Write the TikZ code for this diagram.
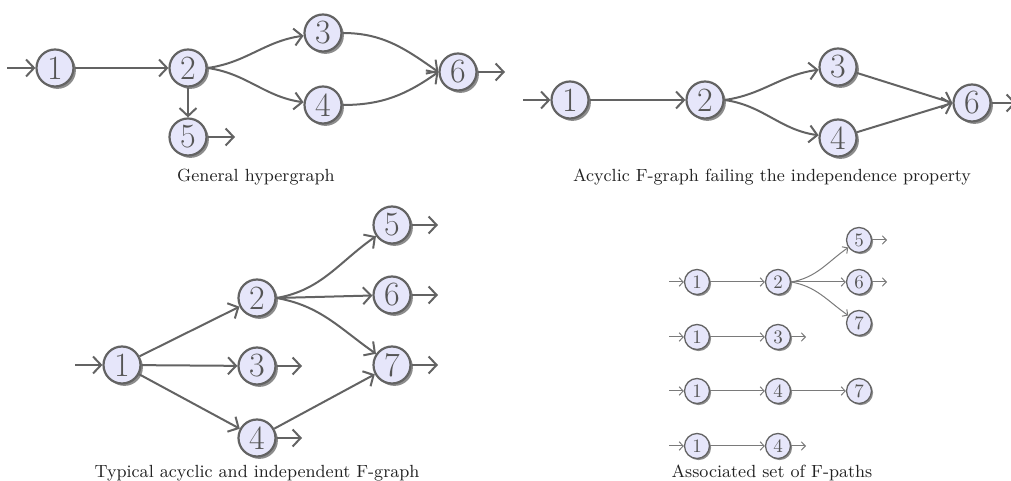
\documentclass[tikz,border=0pt]{standalone}
\usetikzlibrary{arrows.meta,shadows}
\definecolor{edgegray}{HTML}{636363}
\definecolor{lightedge}{HTML}{7A7A7A}
\definecolor{nodefill}{HTML}{E6E6FA}
\definecolor{digitgray}{HTML}{555555}
\definecolor{captioncol}{HTML}{222222}
\tikzset{
  bignode/.style={circle, draw=edgegray, line width=1.1pt, fill=nodefill,
    minimum size=18.5pt, inner sep=0pt, text=digitgray,
    font=\fontsize{17}{17}\selectfont,
    drop shadow={shadow xshift=1.2pt, shadow yshift=-1.2pt, fill=black!45, opacity=1}},
  smallnode/.style={circle, draw=edgegray, line width=0.65pt, fill=nodefill,
    minimum size=12.5pt, inner sep=0pt, text=digitgray,
    font=\fontsize{9.5}{9.5}\selectfont,
    drop shadow={shadow xshift=0.8pt, shadow yshift=-0.8pt, fill=black!45, opacity=1}},
  bigedge/.style={draw=edgegray, line width=1pt, -{Straight Barb[length=4pt,width=8.5pt]}},
  smalledge/.style={draw=lightedge, line width=0.5pt, -{Straight Barb[length=2pt,width=4.2pt]}},
  captext/.style={anchor=base, inner sep=0pt, text=captioncol, font=\fontsize{8.8}{10}\selectfont}
}
\begin{document}
\begin{tikzpicture}[x=0.5pt,y=0.5pt]
\useasboundingbox (0,0) rectangle (1011,481);

% ---------- Graph 1: General hypergraph
\coordinate (a0) at (7,413);
\node[bignode] (a1) at (55,413) {1};
\node[bignode] (a2) at (188,413) {2};
\node[bignode] (a3) at (323,448) {3};
\node[bignode] (a4) at (323,376) {4};
\node[bignode] (a5) at (188,344) {5};
\node[bignode] (a6) at (458,409) {6};
\coordinate (a6o) at (505,409);
\coordinate (a5o) at (235,344);
\draw[bigedge] (a0) -- (a1);
\draw[bigedge] (a1) -- (a2);
\draw[bigedge] (a2) -- (a5);
\draw[bigedge] (a2.east) to[out=8,in=188] (a3);
\draw[bigedge] (a2.east) to[out=-8,in=172] (a4);
\draw[bigedge] (a3.east) to[out=0,in=145] (a6.west);
\draw[bigedge] (a4.east) to[out=0,in=215] (a6.west);
\draw[bigedge] (a6) -- (a6o);
\draw[bigedge] (a5) -- (a5o);
\node[captext] (capa) at (256,299) {General hypergraph};

% ---------- Graph 2: Acyclic F-graph failing independence
\coordinate (b0) at (523,381);
\node[bignode] (b1) at (570,381) {1};
\node[bignode] (b2) at (705,381) {2};
\node[bignode] (b3) at (838,414) {3};
\node[bignode] (b4) at (838,343) {4};
\node[bignode] (b6) at (972,378) {6};
\coordinate (b6o) at (1016,378);
\draw[bigedge] (b0) -- (b1);
\draw[bigedge] (b1) -- (b2);
\draw[bigedge] (b2.east) to[out=8,in=188] (b3);
\draw[bigedge] (b2.east) to[out=-8,in=172] (b4);
\draw[bigedge] (b3) -- (b6.west);
\draw[bigedge] (b4) -- (b6.west);
\draw[bigedge] (b6) -- (b6o);
\node[captext] (capb) at (772,299) {Acyclic F-graph failing the independence property};

% ---------- Graph 3: Typical acyclic and independent F-graph
\coordinate (c0) at (75,116);
\node[bignode] (c1) at (122,116) {1};
\node[bignode] (c2) at (257,183) {2};
\node[bignode] (c3) at (257,115) {3};
\node[bignode] (c4) at (257,43) {4};
\node[bignode] (c5) at (392,256) {5};
\node[bignode] (c6) at (392,186) {6};
\node[bignode] (c7) at (392,116) {7};
\coordinate (c3o) at (302,115);
\coordinate (c4o) at (302,43);
\coordinate (c5o) at (438,256);
\coordinate (c6o) at (438,186);
\coordinate (c7o) at (438,116);
\draw[bigedge] (c0) -- (c1);
\draw[bigedge] (c1) -- (c2);
\draw[bigedge] (c1) -- (c3);
\draw[bigedge] (c1) -- (c4);
\draw[bigedge] (c2.east) to[out=10,in=215] (c5);
\draw[bigedge] (c2.east) -- (c6);
\draw[bigedge] (c2.east) to[out=-10,in=145] (c7);
\draw[bigedge] (c4) -- (c7);
\draw[bigedge] (c3) -- (c3o);
\draw[bigedge] (c4) -- (c4o);
\draw[bigedge] (c5) -- (c5o);
\draw[bigedge] (c6) -- (c6o);
\draw[bigedge] (c7) -- (c7o);
\node[captext] (capc) at (257,3) {Typical acyclic and independent F-graph};

% ---------- Graph 4: Associated set of F-paths
\coordinate (d0) at (669,199);
\node[smallnode] (d1) at (697,199) {1};
\node[smallnode] (d2) at (778,199) {2};
\node[smallnode] (d5) at (859,241) {5};
\node[smallnode] (d6) at (859,199) {6};
\node[smallnode] (d7) at (859,158) {7};
\coordinate (d5o) at (887,241);
\coordinate (d6o) at (887,199);
\draw[smalledge] (d0) -- (d1);
\draw[smalledge] (d1) -- (d2);
\draw[smalledge] (d2.east) to[out=10,in=215] (d5);
\draw[smalledge] (d2.east) -- (d6);
\draw[smalledge] (d2.east) to[out=-10,in=145] (d7);
\draw[smalledge] (d5) -- (d5o);
\draw[smalledge] (d6) -- (d6o);

\coordinate (e0) at (669,144);
\node[smallnode] (e1) at (697,144) {1};
\node[smallnode] (e3) at (778,144) {3};
\coordinate (e3o) at (806,144);
\draw[smalledge] (e0) -- (e1);
\draw[smalledge] (e1) -- (e3);
\draw[smalledge] (e3) -- (e3o);

\coordinate (f0) at (669,90);
\node[smallnode] (f1) at (697,90) {1};
\node[smallnode] (f4) at (778,90) {4};
\node[smallnode] (f7) at (859,90) {7};
\draw[smalledge] (f0) -- (f1);
\draw[smalledge] (f1) -- (f4);
\draw[smalledge] (f4) -- (f7);

\coordinate (h0) at (669,35);
\node[smallnode] (h1) at (697,35) {1};
\node[smallnode] (h4) at (778,35) {4};
\coordinate (h4o) at (806,35);
\draw[smalledge] (h0) -- (h1);
\draw[smalledge] (h1) -- (h4);
\draw[smalledge] (h4) -- (h4o);
\node[captext] (capd) at (772,3) {Associated set of F-paths};
\end{tikzpicture}
\end{document}
